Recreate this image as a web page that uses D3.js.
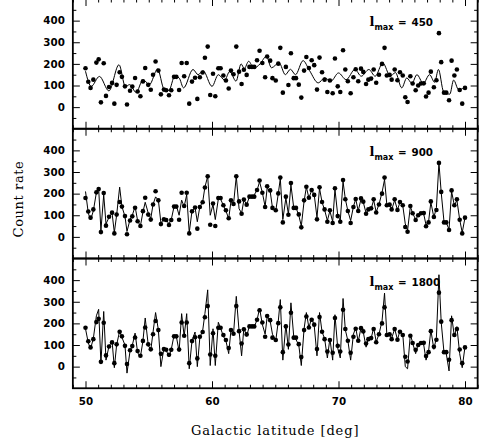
<!DOCTYPE html>
<html><head><meta charset="utf-8">
<script src="https://cdn.jsdelivr.net/npm/d3@7"></script>
<style>body{margin:0;background:#fff}svg{display:block}</style>
</head><body>
<script>
// Galactic latitude of each measured point (deg)
const lat = [
50.00,50.22,50.40,50.62,50.86,51.04,51.22,51.44,51.62,51.86,
52.10,52.28,52.46,52.70,52.88,53.12,53.28,53.52,53.70,53.92,
54.12,54.34,54.54,54.72,54.96,55.16,55.34,55.54,55.76,55.96,
56.20,56.38,56.60,56.78,57.00,57.18,57.40,57.60,57.80,58.00,
58.20,58.42,58.66,58.84,59.04,59.26,59.44,59.66,59.86,60.08,
60.26,60.50,60.68,60.90,61.10,61.32,61.50,61.70,61.92,62.14,
62.34,62.52,62.74,62.96,63.16,63.34,63.56,63.76,63.98,64.20,
64.36,64.60,64.78,65.04,65.24,65.40,65.60,65.84,66.04,66.24,
66.46,66.64,66.86,67.06,67.28,67.46,67.66,67.88,68.08,68.30,
68.50,68.70,68.90,69.12,69.32,69.54,69.72,69.94,70.14,70.36,
70.54,70.74,70.96,71.18,71.36,71.56,71.78,71.96,72.18,72.36,
72.58,72.78,72.98,73.20,73.44,73.64,73.82,74.04,74.20,74.44,
74.66,74.86,75.08,75.28,75.46,75.68,75.86,76.10,76.30,76.52,
76.74,76.92,77.12,77.30,77.54,77.74,77.94,78.12,78.34,78.52,
78.74,78.94,79.16,79.36,79.58,79.78,80.00];
// Measured count rate (dots, same in every panel)
const counts = [
180,117,89,127,206,221,22,203,52,93,
112,16,103,161,140,96,12,76,95,135,
72,50,119,181,103,80,150,211,169,59,
81,78,55,78,140,140,79,204,143,204,
16,118,136,38,138,160,228,280,56,154,
50,180,180,146,123,86,169,152,280,164,
107,173,149,186,186,186,217,261,204,138,
234,215,134,123,201,274,67,186,102,249,
134,134,104,44,169,232,181,217,194,81,
229,161,127,70,123,64,225,96,70,263,
174,120,64,138,175,120,178,163,107,127,
132,174,113,150,200,274,146,149,127,174,
124,161,146,46,24,143,109,78,100,109,
110,49,67,164,92,124,342,208,67,67,
32,215,146,174,79,16,89];
// Model curve l_max = 900 (at the point latitudes)
const fit900 = [
210,110,78,120,205,225,30,195,60,90,
110,20,100,230,140,95,25,80,100,140,
75,50,115,160,110,85,150,185,170,65,
80,78,60,80,140,145,100,170,140,195,
20,120,135,70,140,160,230,280,100,150,
80,175,175,145,120,85,165,150,280,130,
110,170,150,185,185,195,215,255,205,140,
225,210,135,120,200,270,80,180,105,240,
135,135,100,50,165,230,180,215,195,90,
225,160,125,75,120,70,220,100,75,255,
175,120,75,140,175,120,175,160,110,125,
130,170,115,150,205,265,150,150,125,170,
125,160,145,60,30,140,110,80,100,110,
105,55,70,160,90,135,342,205,70,65,
35,210,145,170,80,20,89];
// Model curve l_max = 1800 (at the point latitudes)
const fit1800 = [
175,110,82,130,235,265,15,255,30,95,
118,-5,100,165,135,100,-30,72,98,155,
65,45,118,225,100,75,160,250,170,0,
85,75,45,80,145,140,70,245,140,245,
-10,120,160,0,135,165,245,355,5,175,
5,205,178,140,120,60,170,150,325,165,
50,180,140,190,185,185,215,270,195,150,
230,210,150,120,210,310,30,195,80,295,
140,125,100,5,175,250,180,225,190,50,
250,160,130,40,130,30,240,85,40,315,
170,120,30,150,180,115,180,160,90,130,
130,180,115,150,210,340,150,150,130,175,
125,165,150,0,-10,150,110,60,105,110,
100,30,70,170,80,135,425,205,65,60,
-20,235,140,185,60,-5,92];
// Model curve l_max = 450 (turning points)
const fit450Lat = [50.0,50.45,51.1,51.85,52.65,53.15,53.5,54.0,54.55,55.05,55.7,56.2,56.6,57.05,57.4,57.75,58.5,58.9,59.3,60.0,60.5,61.0,61.4,61.9,62.3,62.55,62.9,63.3,63.8,64.3,64.7,65.3,65.8,66.2,66.6,67.2,67.7,68.4,68.9,69.4,70.0,70.6,71.3,71.8,72.4,72.9,73.5,74.1,74.5,75.0,75.4,75.8,76.2,76.7,77.2,77.6,77.9,78.3,78.8,79.1,79.5,79.9];
const fit450 = [166,96,142,75,196,96,104,68,127,104,176,85,78,143,135,89,174,150,168,96,150,125,165,120,200,178,212,180,200,235,182,205,150,175,150,215,170,112,135,120,158,127,174,143,174,143,204,143,160,89,135,110,150,110,150,115,174,73,60,125,80,89];

const lmaxValues = ["450","900","1800"];
const yTickLabels = [0,100,200,300,400];
const yMinorTicks = [-50,50,150,250,350,450];
const xTickLabels = [50,60,70,80];
const xMinorTicks = d3.range(49,82).filter(v => v % 10 !== 0);

const W = 479, H = 447;
const left = 72.85, right = 477.65, top0 = -1, ph = 129.75;
const x = d3.scaleLinear().domain([49,81]).range([left,right]);
const y = d3.scaleLinear().domain([-100,500]).range([ph,0]);

const svg = d3.select("body").append("svg").attr("width",W).attr("height",H);
const tickFont = "'DejaVu Sans', sans-serif";
const serif = "'DejaVu Serif', serif";

const curves = [
  {lat: fit450Lat, val: fit450, curve: d3.curveMonotoneX},
  {lat: lat, val: fit900, curve: d3.curveLinear},
  {lat: lat, val: fit1800, curve: d3.curveLinear}
];

svg.append("defs").append("clipPath").attr("id","clip")
  .append("rect").attr("x",left).attr("y",0).attr("width",right-left).attr("height",ph);

curves.forEach((c, i) => {
  const g = svg.append("g").attr("transform", `translate(0,${top0 + i*ph})`);
  const styleAxis = sel => {
    sel.select(".domain").remove();
    sel.selectAll("line").attr("stroke","#000").attr("stroke-width",1);
    sel.selectAll("text").attr("font-family",tickFont).attr("font-weight","bold").attr("font-size",10.3).attr("fill","#000");
  };
  g.append("g").attr("transform",`translate(${left},0)`)
    .call(d3.axisLeft(y).tickValues(yTickLabels).tickSizeInner(-7).tickSizeOuter(0).tickPadding(8).tickFormat(d3.format("d")))
    .call(styleAxis);
  g.append("g").attr("transform",`translate(${left},0)`)
    .call(d3.axisLeft(y).tickValues(yMinorTicks).tickSizeInner(-3.5).tickSizeOuter(0).tickFormat(""))
    .call(styleAxis);
  g.append("g").attr("transform",`translate(${right},0)`)
    .call(d3.axisRight(y).tickValues(yTickLabels).tickSizeInner(-7).tickSizeOuter(0).tickFormat(""))
    .call(styleAxis);
  g.append("g").attr("transform",`translate(${right},0)`)
    .call(d3.axisRight(y).tickValues(yMinorTicks).tickSizeInner(-3.5).tickSizeOuter(0).tickFormat(""))
    .call(styleAxis);
  g.append("g").attr("transform",`translate(0,${ph})`)
    .call(d3.axisBottom(x).tickValues(xTickLabels).tickSizeInner(-7).tickSizeOuter(0).tickPadding(9)
      .tickFormat(i === 2 ? d3.format("d") : ""))
    .call(styleAxis);
  g.append("g").attr("transform",`translate(0,${ph})`)
    .call(d3.axisBottom(x).tickValues(xMinorTicks).tickSizeInner(-3.5).tickSizeOuter(0).tickFormat(""))
    .call(styleAxis);
  g.append("g")
    .call(d3.axisTop(x).tickValues(xTickLabels).tickSizeInner(-7).tickSizeOuter(0).tickFormat(""))
    .call(styleAxis);
  g.append("g")
    .call(d3.axisTop(x).tickValues(xMinorTicks).tickSizeInner(-3.5).tickSizeOuter(0).tickFormat(""))
    .call(styleAxis);

  const plot = g.append("g").attr("clip-path","url(#clip)");
  const line = d3.line().x(d => x(d[0])).y(d => y(d[1])).curve(c.curve);
  plot.append("path").datum(d3.zip(c.lat, c.val))
    .attr("d", line).attr("fill","none").attr("stroke","#000").attr("stroke-width",1);
  plot.selectAll("circle").data(d3.zip(lat, counts)).join("circle")
    .attr("cx", d => x(d[0])).attr("cy", d => y(d[1])).attr("r", 2.3).attr("fill","#000");

  g.append("rect").attr("x",left).attr("y",0).attr("width",right-left).attr("height",ph)
    .attr("fill","none").attr("stroke","#000").attr("stroke-width",1.8);

  const t = g.append("text").attr("y",27).attr("fill","#000").attr("font-weight","bold");
  t.append("tspan").attr("x",369.5).attr("font-family",serif).attr("font-size",13).text("l");
  t.append("tspan").attr("x",374.5).attr("dy",4).attr("font-family",tickFont).attr("font-size",8).text("max");
  t.append("tspan").attr("x",398).attr("dy",-4).attr("font-family",tickFont).attr("font-size",10.3).text("=");
  t.append("tspan").attr("x",411.5).attr("font-family",tickFont).attr("font-size",10.3).text(lmaxValues[i]);
});

svg.append("text").attr("x",(left+right)/2).attr("y",435).attr("text-anchor","middle")
  .attr("font-family",serif).attr("font-size",13).attr("letter-spacing",0.9).attr("fill","#000").text("Galactic latitude [deg]");
svg.append("text").attr("transform","translate(23,199) rotate(-90)").attr("text-anchor","middle")
  .attr("font-family",serif).attr("font-size",13).attr("letter-spacing",0.6).attr("fill","#000").text("Count rate");
</script>
</body></html>
